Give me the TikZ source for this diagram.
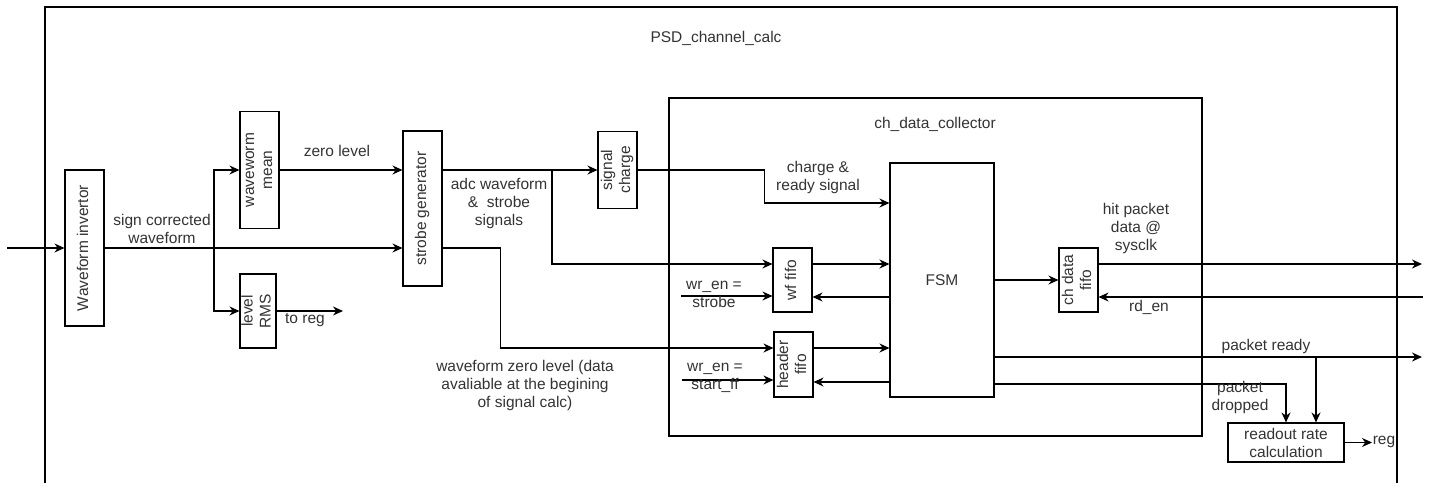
\documentclass[tikz,border=0pt]{standalone}
\usepackage{fontspec}
\setmainfont{Liberation Sans}
\usetikzlibrary{arrows.meta}
\newcommand{\vtext}[1]{\rotatebox{90}{\begin{tabular}{@{}c@{}}#1\end{tabular}}}
\begin{document}
\begin{tikzpicture}[x=1pt,y=-1pt,
  every node/.style={font=\fontsize{15.5}{18}\selectfont,text=black!80,align=center},
  blk/.style={draw,line width=1.1pt,inner sep=0pt},
  arr/.style={-{Stealth[length=10pt,width=9pt]},line width=1.1pt},
  wire/.style={line width=1.1pt}]
  \useasboundingbox (0,0) rectangle (1434,483);
  % outer block, open at the bottom
  \draw[wire] (45,483) -- (45,7) -- (1397,7) -- (1397,483);
  \node (psdlbl) at (716,38) {PSD\_channel\_calc};
  % blocks
  \node[blk,minimum width=39pt,minimum height=156pt] (inv) at (84.5,248) {\vtext{Waveform invertor}};
  \node[blk,minimum width=39pt,minimum height=117pt] (mean) at (259.5,170) {\vtext{waveworm\\mean}};
  \node[blk,minimum width=36pt,minimum height=74pt] (rms) at (258,311) {\vtext{level\\RMS}};
  \node[blk,minimum width=39pt,minimum height=155pt] (strobe) at (422.5,208.5) {\vtext{strobe generator}};
  \node[blk,minimum width=39pt,minimum height=77pt] (charge) at (617.5,170) {\vtext{signal\\charge}};
  \node[blk,minimum width=533pt,minimum height=338pt] (coll) at (935.5,267) {};
  \node (colllbl) at (935,124) {ch\_data\_collector};
  \node[blk,minimum width=39pt,minimum height=64pt] (wf) at (792.5,280) {\vtext{wf fifo}};
  \node[blk,minimum width=39pt,minimum height=65pt] (hdr) at (793.5,364.5) {\vtext{header\\fifo}};
  \node[blk,minimum width=104pt,minimum height=234pt] (fsm) at (942,280) {FSM};
  \node[blk,minimum width=39pt,minimum height=64pt] (chf) at (1078.5,280) {\vtext{ch data\\fifo}};
  \node[blk,minimum width=116pt,minimum height=39pt] (rate) at (1286,442.5) {readout rate\\calculation};
  % free ends and branch points
  \coordinate (in) at (7,248);
  \coordinate (br1) at (214,248);
  \coordinate (toreg) at (343,311);
  \coordinate (br2) at (552,170);
  \coordinate (wren1) at (681,296);
  \coordinate (wren2) at (682,380);
  \coordinate (hitout) at (1422,264);
  \coordinate (rdin) at (1423,297);
  \coordinate (rdyout) at (1422,357);
  \coordinate (br3) at (1316,357);
  \coordinate (regout) at (1372,442.5);
  % left part
  \draw[arr] (in) -- (inv.west);
  \draw[arr] (inv.east) -- (inv.east -| strobe.west);
  \draw[arr] (br1) |- (mean.west);
  \draw[arr] (br1) |- (rms.west);
  \draw[arr] (rms.east) -- (toreg);
  \draw[arr] (mean.east) -- (mean.east -| strobe.west);
  \draw[arr] (strobe.east |- charge.west) -- (charge.west);
  \draw[arr] (br2) |- ([yshift=16pt]wf.west);
  \draw[arr] (strobe.east |- inv.east) -- ++(58,0) |- ([yshift=16.5pt]hdr.west);
  \draw[arr] (charge.east) -- ++(127,0) |- ([yshift=77pt]fsm.west);
  % collector
  \draw[arr] (wren1) -- (wren1 -| wf.west);
  \draw[arr] (wren2) -- (wren2 -| hdr.west);
  \draw[arr] ([yshift=16pt]wf.east) -- ([yshift=16pt]wf.east -| fsm.west);
  \draw[arr] ([yshift=-17pt]wf.east -| fsm.west) -- ([yshift=-17pt]wf.east);
  \draw[arr] ([yshift=16.5pt]hdr.east) -- ([yshift=16.5pt]hdr.east -| fsm.west);
  \draw[arr] ([yshift=-17.5pt]hdr.east -| fsm.west) -- ([yshift=-17.5pt]hdr.east);
  \draw[arr] (fsm.east) -- (chf.west);
  % outputs
  \draw[arr] ([yshift=16pt]chf.east) -- (hitout);
  \draw[arr] (rdin) -- (rdin -| chf.east);
  \draw[arr] ([yshift=-77pt]fsm.east) -- (rdyout);
  \draw[arr] (br3) -- (br3 |- rate.north);
  \draw[arr] ([yshift=-104pt]fsm.east) -| (rate.north);
  \draw[arr] (rate.east) -- (regout);
  % labels
  \node (signlbl) at (162,229) {sign corrected\\waveform};
  \node (zerolbl) at (337,151) {zero level};
  \node (toreglbl) at (305,320) {to reg};
  \node (adclbl) at (499,203) {adc waveform\\\&\ \ strobe\\signals};
  \node (wzlbl) at (525,385) {waveform zero level (data\\avaliable at the begining\\of signal calc)};
  \node (chglbl) at (818,177) {charge \&\\ready signal};
  \node (wren1lbl) at (714,294) {wr\_en =\\strobe};
  \node (wren2lbl) at (715,378) {wr\_en =\\start\_ff};
  \node (hitlbl) at (1136,228) {hit packet\\data @\\sysclk};
  \node (rdlbl) at (1149,307) {rd\_en};
  \node (rdylbl) at (1266,346) {packet ready};
  \node (droplbl) at (1240,397) {packet\\dropped};
  \node (reglbl) at (1384,442) {reg};
\end{tikzpicture}
\end{document}
